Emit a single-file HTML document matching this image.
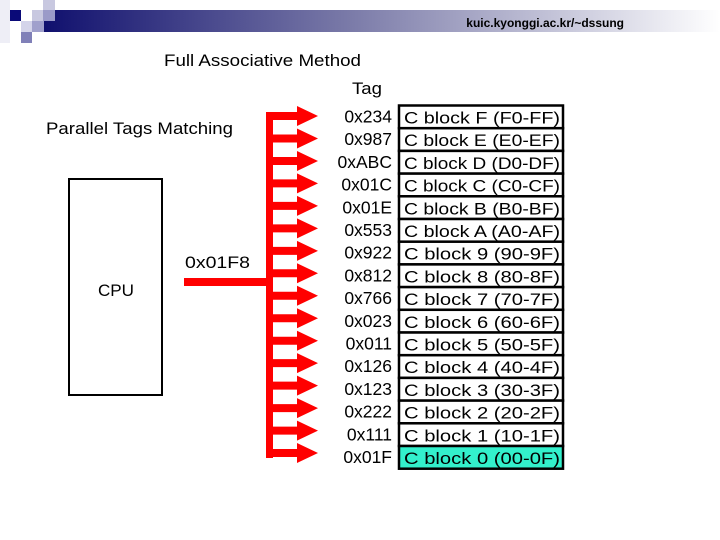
<!DOCTYPE html>
<html><head><meta charset="utf-8"><style>
html,body{margin:0;padding:0;background:#fff;}
svg{display:block;}
text{font-family:"Liberation Sans",sans-serif;}
</style></head><body>
<svg width="720" height="540" viewBox="0 0 720 540" xmlns="http://www.w3.org/2000/svg">
<defs>
<linearGradient id="g" x1="0" x2="1" y1="0" y2="0">
<stop offset="0" stop-color="#10106e"/>
<stop offset="0.45" stop-color="#7a7aa8"/>
<stop offset="1" stop-color="#ffffff"/>
</linearGradient>
</defs>
<rect x="0" y="0" width="10" height="43" fill="#eeeef6"/>
<rect x="44" y="10" width="676" height="22" fill="url(#g)"/>
<rect x="10" y="10" width="11" height="11" fill="#0a0a78"/>
<rect x="32" y="10" width="12" height="11" fill="#c8c8e0"/>
<rect x="43" y="0" width="12" height="10" fill="#c8c8e0"/>
<rect x="43" y="10" width="12" height="11" fill="#9a9ac8"/>
<rect x="21" y="21" width="11" height="11" fill="#d4d4ea"/>
<rect x="32" y="21" width="12" height="11" fill="#a0a0cc"/>
<rect x="21" y="32" width="11" height="11" fill="#8080b8"/>
<text x="624" y="27" font-size="12" font-weight="bold" text-anchor="end">kuic.kyonggi.ac.kr/~dssung</text>
<text x="164" y="66" font-size="17" textLength="197" lengthAdjust="spacingAndGlyphs">Full Associative Method</text>
<text x="352" y="94" font-size="17" textLength="30" lengthAdjust="spacingAndGlyphs">Tag</text>
<text x="46" y="134" font-size="17" textLength="187" lengthAdjust="spacingAndGlyphs">Parallel Tags Matching</text>
<rect x="69" y="179" width="93" height="216" fill="none" stroke="#000" stroke-width="2"/>
<text x="98" y="296" font-size="17" textLength="36" lengthAdjust="spacingAndGlyphs">CPU</text>
<text x="185" y="268" font-size="17" textLength="65" lengthAdjust="spacingAndGlyphs">0x01F8</text>
<g fill="#f00">
<rect x="184" y="278" width="86" height="8"/>
<rect x="266" y="112" width="7" height="346"/>
</g>
<g id="arrows" fill="#f00"></g>
<g id="tbl"></g>
<script>
var tags=["0x234","0x987","0xABC","0x01C","0x01E","0x553","0x922","0x812","0x766","0x023","0x011","0x126","0x123","0x222","0x111","0x01F"];
var names=["F (F0-FF)","E (E0-EF)","D (D0-DF)","C (C0-CF)","B (B0-BF)","A (A0-AF)","9 (90-9F)","8 (80-8F)","7 (70-7F)","6 (60-6F)","5 (50-5F)","4 (40-4F)","3 (30-3F)","2 (20-2F)","1 (10-1F)","0 (00-0F)"];
var ns="http://www.w3.org/2000/svg",a=document.getElementById("arrows"),t=document.getElementById("tbl");
function el(n,at,p,txt){var e=document.createElementNS(ns,n);for(var k in at)e.setAttribute(k,at[k]);if(txt)e.textContent=txt;p.appendChild(e);return e;}
for(var i=0;i<16;i++){
 var c=116+22.47*i;
 el("polygon",{points:"266,"+(c-4)+" 297,"+(c-4)+" 297,"+(c-10)+" 318,"+c+" 297,"+(c+10)+" 297,"+(c+4)+" 266,"+(c+4)},a);
 var y=105.5+22.7*i;
 el("rect",{x:399,y:y,width:164,height:22.7,fill:i==15?"#33f0cc":"#fff",stroke:"#000","stroke-width":2.5},t);
 el("text",{x:392,y:y+17,"font-size":"17.5","text-anchor":"end"},t,tags[i]);
 el("text",{x:404,y:y+18,"font-size":"17",textLength:"156",lengthAdjust:"spacingAndGlyphs"},t,"C block "+names[i]);
}
</script>
</svg>
</body></html>
